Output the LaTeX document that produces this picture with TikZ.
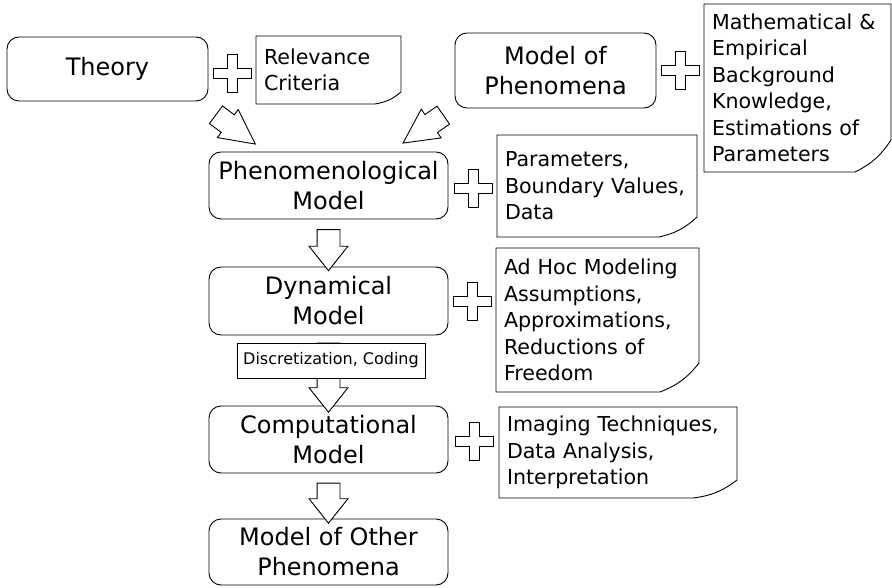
\documentclass[tikz,border=0pt]{standalone}
\usepackage{fontspec}
\setmainfont{DejaVu Sans}
\usepackage{tikz}
\usetikzlibrary{shapes,arrows,positioning}

% outline of a note with its lower right corner turned up
\newcommand{\dogear}[3]{%
    \draw (#1.north west) -- (#1.north east)
        -- ([yshift=#3]#1.south east) to[bend left=15] ([xshift=-#2]#1.south east)
        -- (#1.south west) -- cycle;}

\begin{document}
\begin{tikzpicture}[
    x=1pt,
    y=-1pt,
    line width=0.9pt,
    model/.style={
        rectangle,
        draw=black,
        rounded corners=12pt,
        align=center,
        inner sep=3pt,
        minimum width=239pt,
        minimum height=67pt,
        font=\fontsize{24}{30}\selectfont
    },
    note/.style={
        rectangle,
        inner xsep=8pt,
        inner ysep=0pt,
        outer sep=0pt,
        align=left,
        font=\fontsize{20.6}{26.5}\selectfont
    },
    plus/.style={
        minimum size=40pt,
        inner sep=0pt,
        fill=white,
        path picture={
            \draw[shift={(path picture bounding box.center)}]
                (-5pt,19pt) -- (5pt,19pt) -- (5pt,5pt) -- (19pt,5pt) -- (19pt,-5pt)
                -- (5pt,-5pt) -- (5pt,-19pt) -- (-5pt,-19pt) -- (-5pt,-5pt)
                -- (-19pt,-5pt) -- (-19pt,5pt) -- (-5pt,5pt) -- cycle;
        }
    },
    bigarrow/.style={
        single arrow,
        draw=black,
        fill=white,
        inner xsep=0pt,
        inner ysep=11pt,
        single arrow head extend=8pt,
        single arrow tip angle=77,
        sloped,
        allow upside down
    },
    slantarrow/.style={
        bigarrow,
        inner ysep=10.5pt,
        single arrow head extend=6.5pt,
        single arrow tip angle=54,
        minimum height=49pt
    },
    tag/.style={
        rectangle,
        draw=black,
        fill=white,
        inner sep=2pt,
        minimum width=188pt,
        minimum height=35pt,
        font=\fontsize{16}{19}\selectfont
    }
]
\useasboundingbox (0,0) rectangle (892,588);

% the chain of models
\node[model, minimum width=201pt, minimum height=64pt] (theory) at (107.5,69) {Theory};
\node[model, minimum width=201pt, minimum height=75pt] (phen) at (555.5,70.5) {Model of\\Phenomena};
\node[model] (pheno) at (328.5,185.5) {Phenomenological\\Model};
\node[model, minimum height=68pt] (dyn) at (328.5,301) {Dynamical\\Model};
\node[model] (comp) at (328.5,439.5) {Computational\\Model};
\node[model, minimum height=66pt] (other) at (328.5,552) {Model of Other\\Phenomena};

% notes
\node[note, text width=129pt, minimum height=68pt] (crit) at (328.5,70) {Relevance\\Criteria};
\node[note, text width=171pt, minimum height=168pt] (know) at (797.5,88) {Mathematical \&\\Empirical\\Background\\Knowledge,\\Estimations of\\Parameters};
\node[note, text width=184pt, minimum height=102pt] (param) at (597,186) {Parameters,\\Boundary Values,\\Data};
\node[note, text width=187pt, minimum height=144pt] (adhoc) at (597.5,320) {Ad Hoc Modeling\\Assumptions,\\Approximations,\\Reductions of\\Freedom};
\node[note, text width=222pt, minimum height=91pt] (interp) at (618,452.5) {Imaging Techniques,\\Data Analysis,\\Interpretation};
\dogear{crit}{26pt}{12pt}
\dogear{know}{36pt}{32pt}
\dogear{param}{38pt}{20pt}
\dogear{adhoc}{39pt}{29pt}
\dogear{interp}{44pt}{18pt}

% plus signs
\node[plus] (and1) at (232,73) {};
\node[plus] (and2) at (680,70) {};
\node[plus] (and3) at (473,188) {};
\node[plus] (and4) at (472,301) {};
\node[plus] (and5) at (474,441) {};

% arrows into the phenomenological model
\path ([shift={(-1pt,-7pt)}]theory.south east) -- node[slantarrow] {} ([shift={(38pt,14pt)}]pheno.north west);
\path ([shift={(-3pt,-1pt)}]phen.south west) -- node[slantarrow] {} ([shift={(-36pt,15pt)}]pheno.north east);

% arrows down the chain
\path (pheno) -- node[bigarrow, minimum height=41pt] {} (dyn);
\path (dyn) -- node[bigarrow, minimum height=69pt] {} (comp);
\path (comp) -- node[bigarrow, minimum height=40pt] {} (other);
\node[tag] (coding) at (331,360.5) {Discretization, Coding};

\end{tikzpicture}
\end{document}
